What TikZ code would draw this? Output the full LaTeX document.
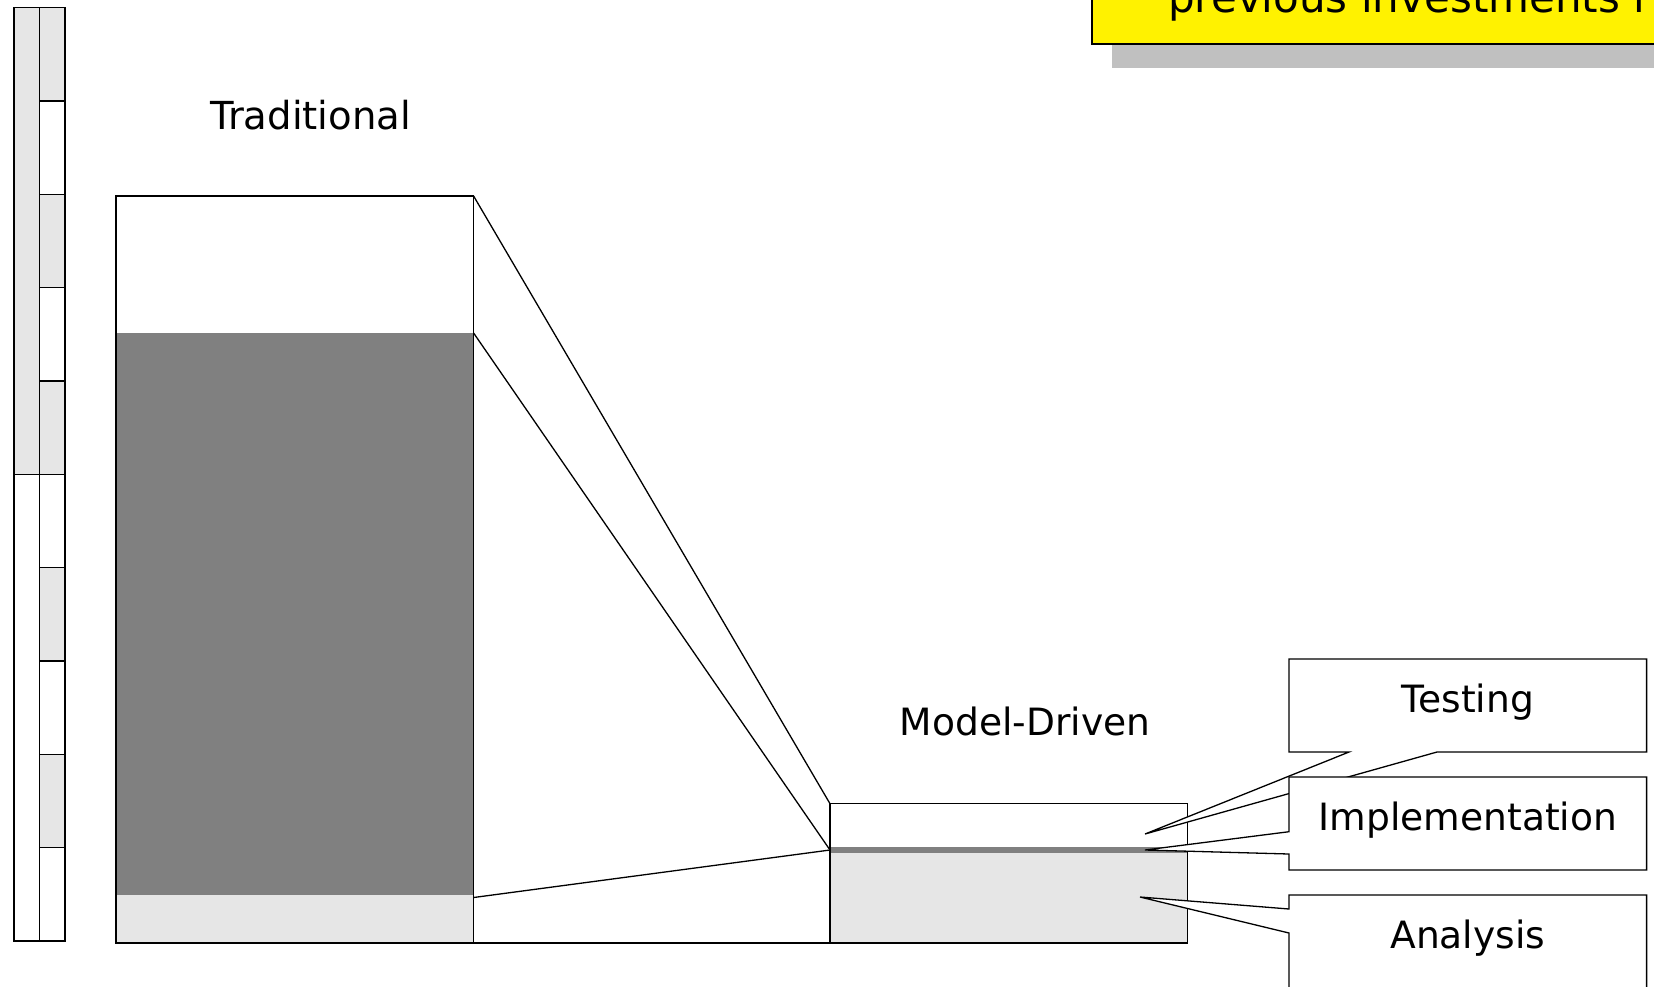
\documentclass[tikz,border=0pt]{standalone}
\usepackage{fontspec}
\setmainfont{DejaVu Sans}
\usepackage{xcolor}
\usepackage{tikz}

\definecolor{darkband}{HTML}{808080}
\definecolor{liteband}{HTML}{E6E6E6}
\definecolor{shadowgray}{HTML}{C0C0C0}

\begin{document}
\begin{tikzpicture}[x=1pt, y=-1pt,
                frame/.style={draw, line width=1.3pt},
                cell/.style={draw, line width=1.3pt},
                proj/.style={line width=1.3pt},
                callout/.style={draw, fill=white, line width=1.3pt, line join=miter},
                bigtext/.style={font=\fontsize{37.6}{45}\selectfont, inner sep=0pt, anchor=base},
                notetext/.style={font=\fontsize{42}{50}\selectfont, inner sep=0pt, anchor=base west}
            ]
            \useasboundingbox (0,0) rectangle (1654,986);
            \clip (0,0) rectangle (1654,986);

            % yellow note with its shadow
            \fill[shadowgray] (1112,-60) rectangle (1720,67.5);
            \draw[fill=yellow, line width=1.3pt] (1092,-80) rectangle (1700,44);
            \node[notetext] (note) at (1168,12) {previous investments i};

            % time scale on the left
            \draw[cell, fill=liteband] (14,7.5) rectangle (39.5,474.5);
            \draw[cell, fill=white] (14,474.5) rectangle (39.5,941);
            \foreach \i/\c in {0/liteband,1/white,2/liteband,3/white,4/liteband,
                               5/white,6/liteband,7/white,8/liteband,9/white}
                \draw[cell, fill=\c] (39.5,{7.5+93.35*\i}) rectangle ++(25.5,93.35);

            % traditional effort
            \coordinate (trad-nw) at (116,196);
            \coordinate (trad-ne) at (473.6,196);
            \coordinate (trad-dk) at (473.6,333);
            \coordinate (trad-lt) at (473.6,897.5);
            \coordinate (trad-se) at (473.6,943);
            \fill[liteband] (116,894.5) rectangle (trad-se);
            \fill[darkband] (116,333) rectangle (473.6,894.5);
            \draw[frame] (trad-nw) rectangle (trad-se);
            \node[bigtext, font=\fontsize{38.6}{46}\selectfont] (tradlabel) at (310.6,129) {Traditional};

            % model-driven effort
            \coordinate (md-nw) at (830,803.7);
            \coordinate (md-band) at (830,850);
            \coordinate (md-sw) at (830,943);
            \coordinate (md-se) at (1187.7,943);
            \fill[liteband] (830,853) rectangle (md-se);
            \fill[darkband] (830,847) rectangle (1187.7,853);
            \draw[frame] (md-nw) rectangle (md-se);
            \node[bigtext] (mdlabel) at (1025,735.5) {Model-Driven};

            % projection lines
            \draw[proj] (trad-ne) -- (md-nw);
            \draw[proj] (trad-dk) -- (md-band);
            \draw[proj] (trad-lt) -- (md-band);
            \draw[proj] (trad-se) -- (md-sw);

            % phase callouts
            \coordinate (tst-tip) at (1145,834);
            \coordinate (imp-tip) at (1145,850);
            \coordinate (ana-tip) at (1140,897);
            \draw[callout] (1289,659) -- (1646.6,659) -- (1646.6,752) -- (1437,752)
                -- (tst-tip) -- (1349,752) -- (1289,752) -- cycle;
            \node[bigtext] (testing) at (1467.8,712) {Testing};
            \draw[callout] (1289,777) -- (1646.6,777) -- (1646.6,870) -- (1289,870)
                -- (1289,854) -- (imp-tip) -- (1289,831.7) -- cycle;
            \node[bigtext] (implementation) at (1467.8,830) {Implementation};
            \draw[callout] (1289,895) -- (1646.6,895) -- (1646.6,988) -- (1289,988)
                -- (1289,933) -- (ana-tip) -- (1289,909) -- cycle;
            \node[bigtext] (analysis) at (1467.8,948) {Analysis};
        \end{tikzpicture}
\end{document}
